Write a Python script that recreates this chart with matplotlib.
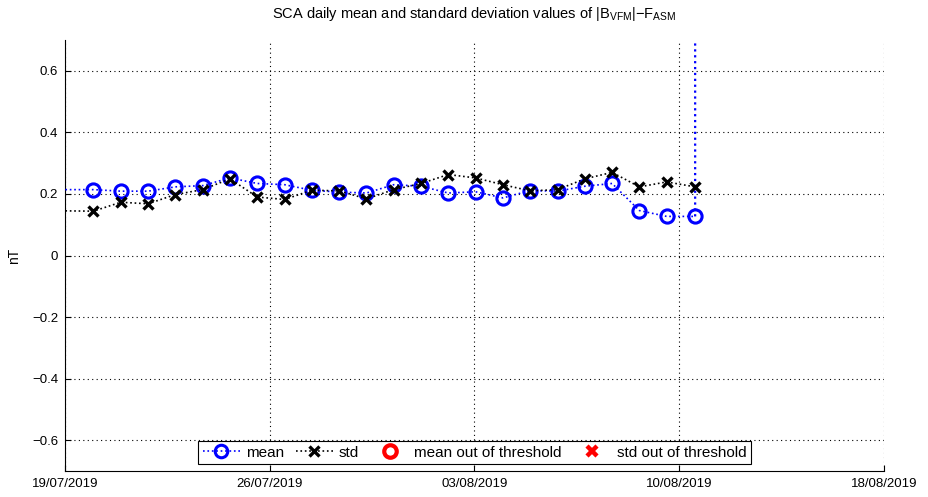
import matplotlib
matplotlib.use("Agg")
import matplotlib.pyplot as plt
from matplotlib.lines import Line2D
import pandas as pd

plt.rcParams['font.family'] = ['Liberation Sans', 'DejaVu Sans']
plt.rcParams['mathtext.fontset'] = 'custom'
plt.rcParams['mathtext.rm'] = 'Liberation Sans'
plt.rcParams['mathtext.default'] = 'regular'

# Daily samples (first one lies before the visible window, last mean jumps off-scale)
dates = pd.to_datetime([
    "2019-07-18 01:00", "2019-07-20 01:00", "2019-07-21 01:00", "2019-07-22 01:00",
    "2019-07-23 01:00", "2019-07-24 01:00", "2019-07-25 01:00", "2019-07-26 01:00",
    "2019-07-27 01:00", "2019-07-28 01:00", "2019-07-29 01:00", "2019-07-30 01:00",
    "2019-07-31 01:00", "2019-08-01 01:00", "2019-08-02 01:00", "2019-08-03 01:00",
    "2019-08-04 01:00", "2019-08-05 01:00", "2019-08-06 01:00", "2019-08-07 01:00",
    "2019-08-08 01:00", "2019-08-09 01:00", "2019-08-10 01:00", "2019-08-11 02:00",
])
mean_vals = [0.214, 0.214, 0.209, 0.209, 0.223, 0.227, 0.252, 0.234, 0.230, 0.212,
             0.206, 0.203, 0.230, 0.225, 0.203, 0.207, 0.187, 0.211, 0.209, 0.225,
             0.234, 0.146, 0.127, 0.127]
std_vals = [0.146, 0.144, 0.173, 0.168, 0.198, 0.214, 0.249, 0.190, 0.182, 0.212,
            0.210, 0.184, 0.214, 0.234, 0.263, 0.252, 0.230, 0.210, 0.214, 0.249,
            0.270, 0.223, 0.239, 0.223]
# off-scale mean sample right after the last day
spike_date = pd.to_datetime("2019-08-11 02:01")
spike_mean = 5.0

xtick_dates = pd.to_datetime(["2019-07-19 00:00", "2019-07-26 12:00", "2019-08-03 00:00",
                              "2019-08-10 12:00", "2019-08-18 00:00"])
xtick_labels = ["19/07/2019", "26/07/2019", "03/08/2019", "10/08/2019", "18/08/2019"]
yticks = [-0.6, -0.4, -0.2, 0, 0.2, 0.4, 0.6]
ytick_labels = ["\u22120.6", "\u22120.4", "\u22120.2", "0", "0.2", "0.4", "0.6"]

fig = plt.figure(figsize=(9.29, 4.97), dpi=100)
ax = fig.add_axes([0.070, 0.0523, 0.8815, 0.8672])

ax.plot(dates, mean_vals, linestyle=':', color='#0000ff', linewidth=1.2,
        marker='o', markersize=9.5, markerfacecolor='none',
        markeredgecolor='#0000ff', markeredgewidth=2.2, zorder=3)
ax.plot([dates[-1], spike_date], [mean_vals[-1], spike_mean], linestyle=':',
        color='#0000ff', linewidth=1.6, zorder=3)
ax.plot(dates, std_vals, linestyle=':', color='black', linewidth=1.2,
        marker='x', markersize=7.5, markeredgecolor='black',
        markeredgewidth=2.4, zorder=4)

ax.set_xlim(xtick_dates[0], xtick_dates[-1])
ax.set_ylim(-0.7, 0.7)
ax.set_xticks(xtick_dates)
ax.set_xticklabels(xtick_labels, fontsize=9.5)
ax.set_yticks(yticks)
ax.set_yticklabels(ytick_labels, fontsize=9.5)
ax.tick_params(direction='in', length=4, width=0.8, pad=5)
ax.grid(True, linestyle=(0, (1, 3)), color='black', linewidth=0.8)
ax.spines['top'].set_visible(False)
ax.spines['right'].set_visible(False)
ax.set_ylabel('nT', fontsize=10, labelpad=8)
ax.set_title(r'SCA daily mean and standard deviation values of $|B_{VFM}|\minus F_{ASM}$',
             fontsize=10.5, pad=16)

handles = [
    Line2D([], [], linestyle=':', color='#0000ff', marker='o', markersize=9,
           markerfacecolor='none', markeredgewidth=2.2, linewidth=1.2),
    Line2D([], [], linestyle=':', color='black', marker='x', markersize=7,
           markeredgewidth=2.4, linewidth=1.2),
    Line2D([], [], linestyle='none', color='red', marker='o', markersize=9,
           markerfacecolor='none', markeredgewidth=3.0),
    Line2D([], [], linestyle='none', color='red', marker='x', markersize=6.5,
           markeredgewidth=3.2),
]
labels = ['mean', 'std', 'mean out of threshold', 'std out of threshold']
leg = ax.legend(handles, labels, loc='lower center', bbox_to_anchor=(0.5, 0.0),
                ncol=4, fontsize=11, frameon=True, fancybox=False,
                edgecolor='black', framealpha=1, handlelength=2.4,
                handletextpad=0.4, columnspacing=0.8, borderpad=0.3,
                borderaxespad=0.45)
leg.get_frame().set_linewidth(0.8)

fig.savefig('out.png', dpi=100)
